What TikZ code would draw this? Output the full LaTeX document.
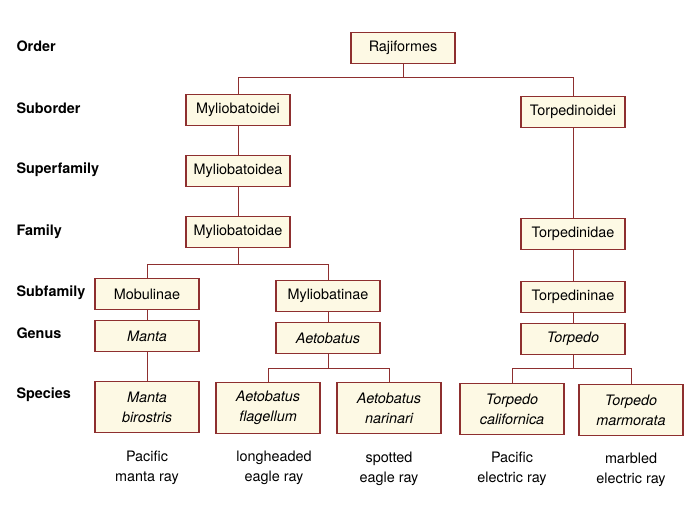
\documentclass[tikz,border=0pt]{standalone}
\usepackage{fontspec}
\setmainfont{TeX Gyre Heros}
\usepackage{tikz}
\usetikzlibrary{positioning}
\definecolor{rayred}{HTML}{8E2F2F}
\definecolor{raycream}{HTML}{FDF9E4}
\newcommand{\txt}{\fontsize{14.4}{20}\selectfont}

\begin{document}
\begin{tikzpicture}[x=1pt,y=-1pt]
	\tikzstyle{every node}+=[font=\txt]
	\tikzstyle{taxon}=[draw=rayred, fill=raycream, line width=1.4pt, minimum width=104pt, minimum height=31pt, inner sep=0pt]
	\tikzstyle{genus}=[taxon, font=\txt\itshape]
	\tikzstyle{species}=[taxon, minimum height=51pt, align=center, font=\txt\itshape]
	\tikzstyle{rank}=[anchor=west, font=\txt\bfseries]
	\tikzstyle{common}=[align=center]
	\tikzstyle{link}=[rayred, line width=1pt]
	\useasboundingbox (0,0) rectangle (685,525);
	% ranks
	\node[rank] (order) at (13,46) {Order};
	\node[rank] (subord) at (13,108) {Suborder};
	\node[rank] (superfam) at (13,170) {Superfamily};
	\node[rank] (fam) at (13,232) {Family};
	\node[rank] (subfam) at (13,293) {Subfamily};
	\node[rank] (gen) at (13,333) {Genus};
	\node[rank] (spec) at (13,395) {Species};
	% taxa
	\node[taxon] (raji) at (403,48) {Rajiformes};
	\node[taxon] (mylei) at (238,110) {Myliobatoidei};
	\node[taxon] (torpei) at (573,112) {Torpedinoidei};
	\node[taxon] (myleo) at (238,171) {Myliobatoidea};
	\node[taxon] (mylae) at (238,232) {Myliobatoidae};
	\node[taxon] (torpae) at (573,234) {Torpedinidae};
	\node[taxon] (mobul) at (147,294) {Mobulinae};
	\node[taxon] (mylin) at (328,296) {Myliobatinae};
	\node[taxon] (torpin) at (573,297) {Torpedininae};
	\node[genus] (manta) at (147,336) {Manta};
	\node[genus] (aeto) at (328,338) {Aetobatus};
	\node[genus] (torpedo) at (573,339) {Torpedo};
	\node[species] (birostris) at (147,407) {Manta\\birostris};
	\node[species] (flagellum) at (268,408) {Aetobatus\\flagellum};
	\node[species] (narinari) at (389,408) {Aetobatus\\narinari};
	\node[species] (californica) at (512,409) {Torpedo\\californica};
	\node[species] (marmorata) at (631,410) {Torpedo\\marmorata};
	% common names
	\node[common] (pacmanta) at (147,468) {Pacific\\manta ray};
	\node[common] (longhead) at (274,468) {longheaded\\eagle ray};
	\node[common] (spotted) at (389,469) {spotted\\eagle ray};
	\node[common] (pacelec) at (512,469) {Pacific\\electric ray};
	\node[common] (marbled) at (631,470) {marbled\\electric ray};
	% links
	\draw[link] (raji.south) -- ++(0,13) -| (mylei.north);
	\draw[link] (raji.south) ++(0,13) -| (torpei.north);
	\draw[link] (mylei) -- (myleo);
	\draw[link] (myleo) -- (mylae);
	\draw[link] (mylae.south) -- ++(0,16) -| (mobul.north);
	\draw[link] (mylae.south) ++(0,16) -| (mylin.north);
	\draw[link] (mobul) -- (manta);
	\draw[link] (mylin) -- (aeto);
	\draw[link] (manta) -- (birostris);
	\draw[link] (aeto.south) -- ++(0,14) -| (flagellum.north);
	\draw[link] (aeto.south) ++(0,14) -| (narinari.north);
	\draw[link] (torpei) -- (torpae);
	\draw[link] (torpae) -- (torpin);
	\draw[link] (torpin) -- (torpedo);
	\draw[link] (torpedo.south) -- ++(0,13) -| (californica.north);
	\draw[link] (torpedo.south) ++(0,13) -| (marmorata.north);
\end{tikzpicture}
\end{document}
